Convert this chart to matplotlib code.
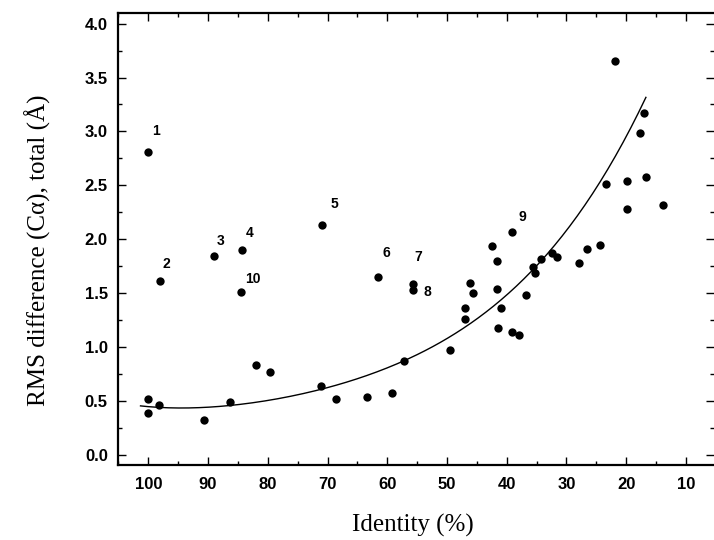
import matplotlib
matplotlib.use("Agg")
import matplotlib.pyplot as plt
import numpy as np
from matplotlib.ticker import MultipleLocator, FormatStrFormatter

# ---- data ----
identity = [100, 100, 98.2, 90.6, 86.3, 82.0, 79.6, 71.1, 68.6, 63.4, 59.2, 57.2,
            49.5, 47.05, 47.05, 46.1, 45.7, 42.5, 41.6, 41.6, 41.5, 40.9, 39.1,
            38.0, 36.8, 35.6, 35.3, 34.3, 32.5, 31.6, 27.9, 26.6, 24.45, 23.3,
            21.8, 19.8, 19.8, 17.7, 17.0, 16.75, 13.8]
rms = [0.515, 0.385, 0.457, 0.323, 0.487, 0.834, 0.769, 0.633, 0.513, 0.533, 0.571, 0.868,
       0.967, 1.255, 1.363, 1.595, 1.497, 1.939, 1.80, 1.538, 1.172, 1.363, 1.140,
       1.110, 1.48, 1.744, 1.682, 1.818, 1.868, 1.837, 1.775, 1.905, 1.945, 2.509,
       3.656, 2.542, 2.277, 2.982, 3.168, 2.579, 2.317]

labeled_names = ["1", "2", "3", "4", "5", "6", "7", "8", "9", "10"]
labeled_identity = [100, 98.0, 89.0, 84.3, 70.9, 61.5, 55.75, 55.75, 39.1, 84.5]
labeled_rms = [2.81, 1.614, 1.843, 1.899, 2.131, 1.645, 1.583, 1.527, 2.069, 1.512]

# points
fit_identity = [101.3, 95, 90.2, 86.3, 78.5, 71.1, 64.6, 57.2, 49.5, 41.1, 34.4, 29.4, 23.85, 20.5, 16.7]
fit_rms = [0.447, 0.435, 0.438, 0.465, 0.522, 0.60, 0.692, 0.87, 1.094, 1.45, 1.806, 2.115, 2.549, 2.89, 3.338]

x_ticks = [100, 90, 80, 70, 60, 50, 40, 30, 20, 10]

# label offsets in pixels (dx, dy) from each labeled point
label_offsets = [(8, 21), (6, 17), (7, 15), (8, 17), (12, 21), (8, 24), (6, 27), (15, -2), (10, 15), (12, 13)]

fig = plt.figure(figsize=(7.14, 5.40), dpi=100)
ax = fig.add_axes([0.1646, 0.1389, 0.8354, 0.837])

# smooth trend line through the read curve points (polynomial trend)
coef = np.polyfit(fit_identity, fit_rms, 4)
xs = np.linspace(max(fit_identity), min(fit_identity), 200)
ax.plot(xs, np.polyval(coef, xs), color="black", lw=1.0, zorder=2)

ax.scatter(identity, rms, s=36, color="black", zorder=3, linewidths=0)
ax.scatter(labeled_identity, labeled_rms, s=36, color="black", zorder=3, linewidths=0)

for name, xv, yv, (dx, dy) in zip(labeled_names, labeled_identity, labeled_rms, label_offsets):
    ax.annotate(name, (xv, yv), xytext=(dx, dy), textcoords="offset pixels",
                ha="center", va="center", fontsize=10, fontweight="bold",
                family="Liberation Sans")

ax.set_xlim(105.15, 5.3)
ax.set_ylim(-0.097, 4.099)

ax.set_xticks(x_ticks)
ax.xaxis.set_minor_locator(MultipleLocator(5))
ax.yaxis.set_major_locator(MultipleLocator(0.5))
ax.yaxis.set_minor_locator(MultipleLocator(0.25))
ax.yaxis.set_major_formatter(FormatStrFormatter("%.1f"))

ax.tick_params(which="both", direction="in", top=True, right=True, width=1.0)
ax.tick_params(which="major", length=6)
ax.tick_params(which="minor", length=3)
ax.tick_params(axis="x", which="major", pad=9)
ax.tick_params(axis="y", which="major", pad=7)
for lab in ax.get_xticklabels() + ax.get_yticklabels():
    lab.set_fontfamily("Liberation Sans")
    lab.set_fontweight("bold")
    lab.set_fontsize(12)

for side in ["left", "bottom", "top"]:
    ax.spines[side].set_linewidth(1.6)
ax.spines["right"].set_visible(False)

ax.set_xlabel("Identity (%)", fontsize=18, family="Liberation Serif")
ax.set_ylabel("RMS difference (C\u03b1), total (\u00c5)", fontsize=18, family="Liberation Serif")
ax.xaxis.set_label_coords(0.495, -0.108)
ax.yaxis.set_label_coords(-0.112, 0.476)

fig.savefig("out.png", dpi=100)
